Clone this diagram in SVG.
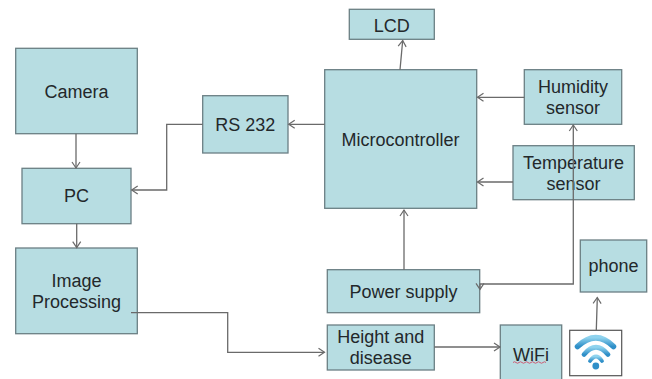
<svg xmlns="http://www.w3.org/2000/svg" width="652" height="379" viewBox="0 0 652 379">
<style>
.b{fill:#b7dde2;stroke:#6b7f84;stroke-width:1.3}
.t{font-family:"Liberation Sans",Arial,sans-serif;font-size:18px;fill:#23282b;text-anchor:middle}
.c{fill:none;stroke:#6a6a6a;stroke-width:1.3}
.a{marker-end:url(#h)}
</style>
<defs>
<marker id="h" viewBox="-8 -6 10 12" refX="0" refY="0" markerUnits="userSpaceOnUse" markerWidth="10" markerHeight="12" orient="auto-start-reverse" overflow="visible">
<path d="M-6 -4L0 0L-6 4" fill="none" stroke="#6a6a6a" stroke-width="1.2"/>
</marker>
<linearGradient id="w" x1="0" y1="0" x2="0" y2="1">
<stop offset="0" stop-color="#8fd3ee"/><stop offset="1" stop-color="#2f8fc8"/>
</linearGradient>
</defs>
<rect width="652" height="379" fill="#fff"/>
<g id="lcd"><rect class="b" x="349.3" y="9.3" width="85" height="30"/><text class="t" x="391.8" y="31.5">LCD</text></g>
<g id="microcontroller"><rect class="b" x="324.7" y="69.7" width="152" height="138.6"/><text class="t" x="400.5" y="146">Microcontroller</text></g>
<g id="humidity"><rect class="b" x="524.3" y="69.7" width="97.4" height="54.6"/><text class="t" x="573" y="92.7">Humidity</text><text class="t" x="573" y="114">sensor</text></g>
<g id="temperature"><rect class="b" x="513" y="145.7" width="121.3" height="54"/><text class="t" x="573.5" y="169.3">Temperature</text><text class="t" x="573.5" y="190.3">sensor</text></g>
<g id="power"><rect class="b" x="327.3" y="269.7" width="152.4" height="43"/><text class="t" x="403.5" y="297.7">Power supply</text></g>
<g id="height"><rect class="b" x="327.3" y="325" width="107" height="45"/><text class="t" x="380.8" y="343">Height and</text><text class="t" x="380.8" y="364">disease</text></g>
<g id="wifi"><rect class="b" x="500.3" y="325" width="61.4" height="56"/><text class="t" x="531" y="360.7">WiFi</text><path d="M513 362.5q1.5 -1.5 3 0t3 0t3 0t3 0t3 0t3 0t3 0t3 0t3 0t3 0t3 0" fill="none" stroke="#d0506a" stroke-width="0.9"/></g>
<g id="wifi-icon"><rect x="569.7" y="330.3" width="52" height="45.4" fill="#fff" stroke="#555" stroke-width="1.2"/>
<g fill="none" stroke="url(#w)" stroke-linecap="round"><path d="M577.5 346.5Q596 329 613.5 346.5" stroke-width="5.5"/><path d="M584 354.5Q596 340 608 354.5" stroke-width="4.8"/><path d="M590 361Q596 352 602 361" stroke-width="3.8"/></g>
<circle cx="595.8" cy="366" r="3.4" fill="#2f8fc8"/></g>
<g id="phone"><rect class="b" x="580.3" y="240" width="66.4" height="52"/><text class="t" x="613.5" y="272.3">phone</text></g>
<g id="camera"><rect class="b" x="15.7" y="48.3" width="121.6" height="85.4"/><text class="t" x="76.5" y="97.7">Camera</text></g>
<g id="rs232"><rect class="b" x="202.7" y="95.7" width="85.3" height="57.3"/><text class="t" x="245.3" y="131">RS 232</text></g>
<g id="pc"><rect class="b" x="22" y="168.3" width="109" height="55.4"/><text class="t" x="76.5" y="202.3">PC</text></g>
<g id="image"><rect class="b" x="15.7" y="248" width="121.6" height="85.7"/><text class="t" x="76.5" y="287">Image</text><text class="t" x="76.5" y="308">Processing</text></g>
<g id="connectors">
<path class="c a" d="M400 69.7L402.7 40.5"/>
<path class="c a" d="M524.3 97.3H477.5"/>
<path class="c a" d="M513 182H477.5"/>
<path class="c a" d="M404 269.7V210"/>
<path class="c a" d="M596.3 330.3L597.3 297.5"/>
<path class="c a" d="M434.3 347H500"/>
<path class="c a" d="M324.7 124.3H288.7"/>
<path class="c a" d="M202.7 124.3H166.7V190H131.7"/>
<path class="c a" d="M76 133.7V168"/>
<path class="c a" d="M76.7 223.7V247.7"/>
<path class="c a" d="M131 312.7H227.7V352.3H324.5"/>
<path class="c a" d="M573.3 125V284H480V289.3" style="marker-start:url(#h)"/>
</g>
</svg>
